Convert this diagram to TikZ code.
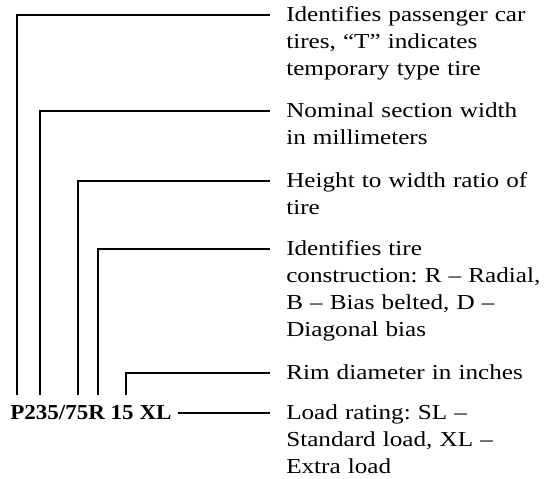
\documentclass[tikz,border=0pt]{standalone}
\usepackage{fontspec}
\setmainfont{Liberation Serif}
\newfontfamily\lblfont[FakeStretch=1.18]{Liberation Serif}
\newfontfamily\codefont[FakeStretch=1.08]{Liberation Serif}
\frenchspacing
\begin{document}
\begin{tikzpicture}[x=0.75pt,y=-0.75pt,
  lead/.style={line width=1.3pt},
  lbl/.style={anchor=base west,inner sep=0pt,text width=260pt,align=left,
    font=\lblfont\fontsize{16}{20.25}\selectfont},
  code/.style={anchor=base west,inner sep=0pt,font=\codefont\fontsize{16}{18}\selectfont\bfseries}]
\useasboundingbox (0,0) rectangle (544,479);
\node[code] (tc) at (10,419) {P235/75R 15 XL};
\node[lbl] (l1) at (286,21) {Identifies passenger car\\tires, “T” indicates\\temporary type tire};
\node[lbl] (l2) at (286,117) {Nominal section width\\in millimeters};
\node[lbl] (l3) at (286,187) {Height to width ratio of\\tire};
\node[lbl] (l4) at (286,255) {Identifies tire\\construction: R – Radial,\\B – Bias belted, D –\\Diagonal bias};
\node[lbl] (l5) at (286,379) {Rim diameter in inches};
\node[lbl] (l6) at (286,419) {Load rating: SL –\\Standard load, XL –\\Extra load};
\coordinate (p1) at (17,395);
\coordinate (p2) at (40,395);
\coordinate (p3) at (78,395);
\coordinate (p4) at (98,395);
\coordinate (p5) at (126,395);
\coordinate (e1) at (270,15);
\coordinate (e2) at (270,111);
\coordinate (e3) at (270,181);
\coordinate (e4) at (270,249);
\coordinate (e5) at (270,373);
\coordinate (e6) at (270,413);
\draw[lead] (p1) |- (e1);
\draw[lead] (p2) |- (e2);
\draw[lead] (p3) |- (e3);
\draw[lead] (p4) |- (e4);
\draw[lead] (p5) |- (e5);
\draw[lead] ([xshift=4.5pt,yshift=4.5pt]tc.base east) -- (e6);
\end{tikzpicture}
\end{document}
